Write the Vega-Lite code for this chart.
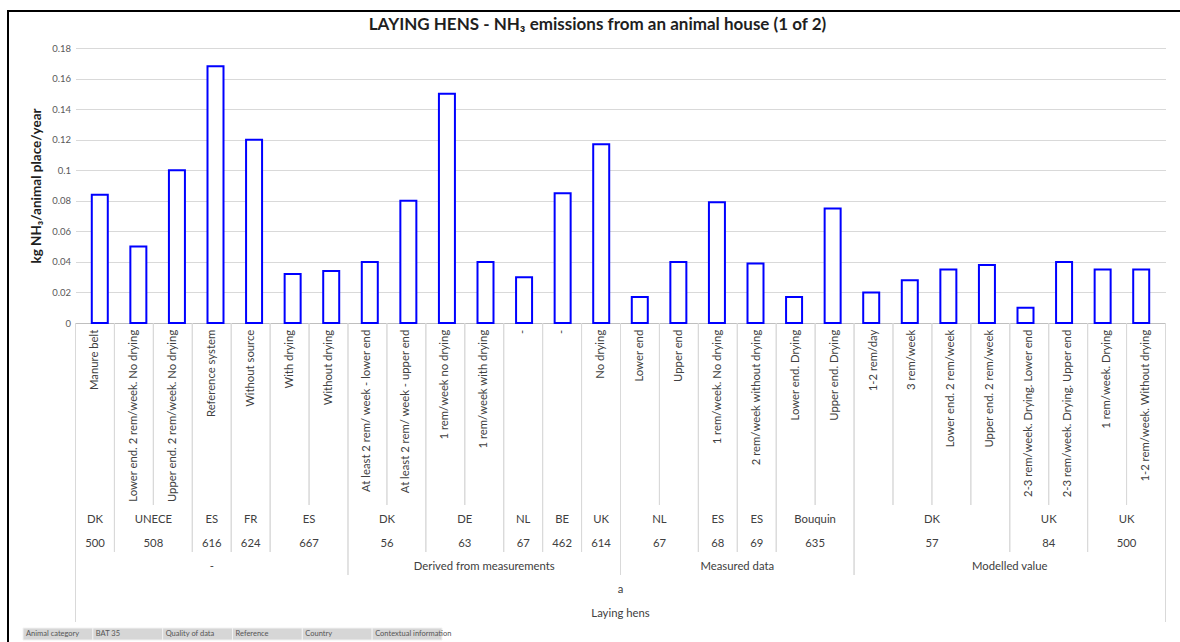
{
  "$schema": "https://vega.github.io/schema/vega-lite/v6.json",
  "padding": {"left": 7, "top": 10, "right": 0, "bottom": 0},
  "autosize": {"type": "pad"},
  "bounds": "flush",
  "spacing": 0,
  "background": "white",
  "config": {"view": {"stroke": null}, "font": "Lato", "text": {"font": "Lato", "color": "#404040", "fontSize": 11.3}, "rule": {"color": "#d9d9d9", "strokeWidth": 1}},
  "datasets": {"rows": [
    {"Contextual information": "Manure belt", "Country": "DK", "Reference": "500", "Quality of data": "-", "BAT 35": "a", "Animal category": "Laying hens", "Emission": 0.084},
    {"Contextual information": "Lower end. 2 rem/week. No drying", "Country": "UNECE", "Reference": "508", "Quality of data": "-", "BAT 35": "a", "Animal category": "Laying hens", "Emission": 0.05},
    {"Contextual information": "Upper end. 2 rem/week. No drying", "Country": "UNECE", "Reference": "508", "Quality of data": "-", "BAT 35": "a", "Animal category": "Laying hens", "Emission": 0.1},
    {"Contextual information": "Reference system", "Country": "ES", "Reference": "616", "Quality of data": "-", "BAT 35": "a", "Animal category": "Laying hens", "Emission": 0.168},
    {"Contextual information": "Without source", "Country": "FR", "Reference": "624", "Quality of data": "-", "BAT 35": "a", "Animal category": "Laying hens", "Emission": 0.12},
    {"Contextual information": "With drying", "Country": "ES", "Reference": "667", "Quality of data": "-", "BAT 35": "a", "Animal category": "Laying hens", "Emission": 0.032},
    {"Contextual information": "Without drying", "Country": "ES", "Reference": "667", "Quality of data": "-", "BAT 35": "a", "Animal category": "Laying hens", "Emission": 0.034},
    {"Contextual information": "At least 2 rem/ week - lower end", "Country": "DK", "Reference": "56", "Quality of data": "Derived from measurements", "BAT 35": "a", "Animal category": "Laying hens", "Emission": 0.04},
    {"Contextual information": "At least 2 rem/ week - upper end", "Country": "DK", "Reference": "56", "Quality of data": "Derived from measurements", "BAT 35": "a", "Animal category": "Laying hens", "Emission": 0.08},
    {"Contextual information": "1 rem/week no drying", "Country": "DE", "Reference": "63", "Quality of data": "Derived from measurements", "BAT 35": "a", "Animal category": "Laying hens", "Emission": 0.15},
    {"Contextual information": "1 rem/week with drying", "Country": "DE", "Reference": "63", "Quality of data": "Derived from measurements", "BAT 35": "a", "Animal category": "Laying hens", "Emission": 0.04},
    {"Contextual information": "-", "Country": "NL", "Reference": "67", "Quality of data": "Derived from measurements", "BAT 35": "a", "Animal category": "Laying hens", "Emission": 0.03},
    {"Contextual information": "-", "Country": "BE", "Reference": "462", "Quality of data": "Derived from measurements", "BAT 35": "a", "Animal category": "Laying hens", "Emission": 0.085},
    {"Contextual information": "No drying", "Country": "UK", "Reference": "614", "Quality of data": "Derived from measurements", "BAT 35": "a", "Animal category": "Laying hens", "Emission": 0.117},
    {"Contextual information": "Lower end", "Country": "NL", "Reference": "67", "Quality of data": "Measured data", "BAT 35": "a", "Animal category": "Laying hens", "Emission": 0.017},
    {"Contextual information": "Upper end", "Country": "NL", "Reference": "67", "Quality of data": "Measured data", "BAT 35": "a", "Animal category": "Laying hens", "Emission": 0.04},
    {"Contextual information": "1 rem/week. No drying", "Country": "ES", "Reference": "68", "Quality of data": "Measured data", "BAT 35": "a", "Animal category": "Laying hens", "Emission": 0.079},
    {"Contextual information": "2 rem/week without drying", "Country": "ES", "Reference": "69", "Quality of data": "Measured data", "BAT 35": "a", "Animal category": "Laying hens", "Emission": 0.039},
    {"Contextual information": "Lower end. Drying", "Country": "Bouquin", "Reference": "635", "Quality of data": "Measured data", "BAT 35": "a", "Animal category": "Laying hens", "Emission": 0.017},
    {"Contextual information": "Upper end. Drying", "Country": "Bouquin", "Reference": "635", "Quality of data": "Measured data", "BAT 35": "a", "Animal category": "Laying hens", "Emission": 0.075},
    {"Contextual information": "1-2 rem/day", "Country": "DK", "Reference": "57", "Quality of data": "Modelled value", "BAT 35": "a", "Animal category": "Laying hens", "Emission": 0.02},
    {"Contextual information": "3 rem/week", "Country": "DK", "Reference": "57", "Quality of data": "Modelled value", "BAT 35": "a", "Animal category": "Laying hens", "Emission": 0.028},
    {"Contextual information": "Lower end. 2 rem/week", "Country": "DK", "Reference": "57", "Quality of data": "Modelled value", "BAT 35": "a", "Animal category": "Laying hens", "Emission": 0.035},
    {"Contextual information": "Upper end. 2 rem/week", "Country": "DK", "Reference": "57", "Quality of data": "Modelled value", "BAT 35": "a", "Animal category": "Laying hens", "Emission": 0.038},
    {"Contextual information": "2-3 rem/week. Drying. Lower end", "Country": "UK", "Reference": "84", "Quality of data": "Modelled value", "BAT 35": "a", "Animal category": "Laying hens", "Emission": 0.01},
    {"Contextual information": "2-3 rem/week. Drying. Upper end", "Country": "UK", "Reference": "84", "Quality of data": "Modelled value", "BAT 35": "a", "Animal category": "Laying hens", "Emission": 0.04},
    {"Contextual information": "1 rem/week. Drying", "Country": "UK", "Reference": "500", "Quality of data": "Modelled value", "BAT 35": "a", "Animal category": "Laying hens", "Emission": 0.035},
    {"Contextual information": "1-2 rem/week. Without drying", "Country": "UK", "Reference": "500", "Quality of data": "Modelled value", "BAT 35": "a", "Animal category": "Laying hens", "Emission": 0.035}
  ],
  "titles": [{"Title": "LAYING HENS - NH₃ emissions from an animal house (1 of 2)"}],
  "frame": [{"Frame": "chart area"}],
  "fields": [
    {"Field button": "Animal category"},
    {"Field button": "BAT 35"},
    {"Field button": "Quality of data"},
    {"Field button": "Reference"},
    {"Field button": "Country"},
    {"Field button": "Contextual information"}
  ]},
  "vconcat": [
    {
      "data": {"name": "frame"},
      "width": 1173, "height": 2,
      "view": {"fill": "#000000", "stroke": null},
      "mark": {"type": "text", "text": "", "fontSize": 1},
      "encoding": {}
    },
    {
      "spacing": 14,
      "bounds": "flush",
      "hconcat": [
        {
          "data": {"name": "frame"},
          "width": 2, "height": 630,
          "view": {"fill": "#000000", "stroke": null},
          "mark": {"type": "text", "text": "", "fontSize": 1},
          "encoding": {}
        },
        {
          "spacing": 52.5,
          "bounds": "flush",
          "hconcat": [
            {
              "spacing": 6,
              "bounds": "flush",
              "vconcat": [
                {
                  "data": {"name": "frame"},
                  "width": 1, "height": 610,
                  "mark": {"type": "text", "text": "", "fontSize": 1},
                  "encoding": {}
                },
                {
                  "data": {"name": "fields"},
                  "width": 419, "height": 12,
                  "encoding": {"x": {"field": "Field button", "type": "nominal", "sort": null, "scale": {"type": "band", "paddingInner": 0, "paddingOuter": 0}, "axis": null}},
                  "layer": [
                    {"mark": {"type": "bar", "fill": "#d6d6d6", "stroke": "#f2f2f2", "strokeWidth": 1}},
                    {"mark": {"type": "text", "align": "left", "baseline": "middle", "fontSize": 7.5, "color": "#555555", "dx": 3}, "encoding": {"x": {"field": "Field button", "type": "nominal", "sort": null, "bandPosition": 0}, "text": {"field": "Field button"}}}
                  ]
                }
              ]
            },
            {
              "data": {"name": "rows"},
              "transform": [{"window": [{"op": "row_number", "as": "idx"}]}],
              "spacing": 0,
              "bounds": "flush",
              "vconcat": [
                {
                  "data": {"name": "titles"},
                  "width": 1090, "height": 36,
                  "mark": {"type": "text", "fontSize": 17, "fontWeight": "bold", "color": "#1f1f1f", "dx": -23, "dy": -5, "baseline": "middle"},
                  "encoding": {"text": {"field": "Title"}}
                },
                {
                  "width": 1090, "height": 275,
                  "mark": {"type": "bar", "fill": "white", "stroke": "#0000FF", "strokeWidth": 2, "size": 16},
                  "encoding": {
                    "x": {"field": "idx", "type": "quantitative", "scale": {"domain": [0.5, 28.5], "nice": false, "zero": false}, "axis": {"title": null, "labels": false, "ticks": false, "grid": false, "domainColor": "#bfbfbf"}},
                    "y": {"field": "Emission", "type": "quantitative", "scale": {"domain": [0, 0.18], "nice": false},
                      "axis": {"values": [0, 0.02, 0.04, 0.06, 0.08, 0.1, 0.12, 0.14, 0.16, 0.18], "format": "~g", "title": "kg NH₃/animal place/year", "titleFont": "Lato", "titleFontSize": 13.5, "titleFontWeight": "bold", "titleColor": "#1f1f1f", "titlePadding": 4, "grid": true, "gridColor": "#d9d9d9", "domain": false, "ticks": false, "labelPadding": 5, "labelFontSize": 9.5, "labelColor": "#595959", "labelFont": "Lato", "minExtent": 28, "maxExtent": 28}}
                  }
                },
                {
                  "width": 1090, "height": 182,
                  "layer": [
                    {"mark": {"type": "text", "angle": 270, "align": "right", "baseline": "middle"},
                      "encoding": {
                        "x": {"field": "idx", "type": "quantitative", "scale": {"domain": [0.5, 28.5], "nice": false, "zero": false}, "axis": null},
                        "y": {"field": "Animal category", "type": "nominal", "bandPosition": 0, "scale": {"type": "band", "paddingInner": 0, "paddingOuter": 0.04}, "axis": null},
                        "text": {"field": "Contextual information"}}},
                    {"mark": {"type": "rule"}, "encoding": {"x": {"field": "idx", "type": "quantitative", "scale": {"domain": [1, 29], "nice": false, "zero": false}, "axis": null}}},
                    {"mark": {"type": "rule"}, "encoding": {"x": {"field": "idx", "type": "quantitative", "scale": {"domain": [0, 28], "nice": false, "zero": false}, "axis": null}}}
                  ],
                  "resolve": {"scale": {"x": "independent"}}
                },
                {
                  "width": 1090, "height": 24,
                  "transform": [{"aggregate": [{"op": "mean", "field": "idx", "as": "mid"}, {"op": "min", "field": "idx", "as": "lo"}, {"op": "max", "field": "idx", "as": "hi"}], "groupby": ["Quality of data", "Reference", "Country"]}],
                  "layer": [
                    {"mark": {"type": "text", "dy": 3}, "encoding": {"x": {"field": "mid", "type": "quantitative", "scale": {"domain": [0.5, 28.5], "nice": false, "zero": false}, "axis": null}, "text": {"field": "Country"}}},
                    {"mark": {"type": "rule"}, "encoding": {"x": {"field": "lo", "type": "quantitative", "scale": {"domain": [1, 29], "nice": false, "zero": false}, "axis": null}}},
                    {"mark": {"type": "rule"}, "encoding": {"x": {"field": "hi", "type": "quantitative", "scale": {"domain": [0, 28], "nice": false, "zero": false}, "axis": null}}}
                  ],
                  "resolve": {"scale": {"x": "independent"}}
                },
                {
                  "width": 1090, "height": 23,
                  "transform": [{"aggregate": [{"op": "mean", "field": "idx", "as": "mid"}, {"op": "min", "field": "idx", "as": "lo"}, {"op": "max", "field": "idx", "as": "hi"}], "groupby": ["Quality of data", "Reference"]}],
                  "layer": [
                    {"mark": {"type": "text", "dy": 3}, "encoding": {"x": {"field": "mid", "type": "quantitative", "scale": {"domain": [0.5, 28.5], "nice": false, "zero": false}, "axis": null}, "text": {"field": "Reference"}}},
                    {"mark": {"type": "rule"}, "encoding": {"x": {"field": "lo", "type": "quantitative", "scale": {"domain": [1, 29], "nice": false, "zero": false}, "axis": null}}},
                    {"mark": {"type": "rule"}, "encoding": {"x": {"field": "hi", "type": "quantitative", "scale": {"domain": [0, 28], "nice": false, "zero": false}, "axis": null}}}
                  ],
                  "resolve": {"scale": {"x": "independent"}}
                },
                {
                  "width": 1090, "height": 23,
                  "transform": [{"aggregate": [{"op": "mean", "field": "idx", "as": "mid"}, {"op": "min", "field": "idx", "as": "lo"}, {"op": "max", "field": "idx", "as": "hi"}], "groupby": ["Quality of data"]}],
                  "layer": [
                    {"mark": {"type": "text", "dy": 3}, "encoding": {"x": {"field": "mid", "type": "quantitative", "scale": {"domain": [0.5, 28.5], "nice": false, "zero": false}, "axis": null}, "text": {"field": "Quality of data"}}},
                    {"mark": {"type": "rule"}, "encoding": {"x": {"field": "lo", "type": "quantitative", "scale": {"domain": [1, 29], "nice": false, "zero": false}, "axis": null}}},
                    {"mark": {"type": "rule"}, "encoding": {"x": {"field": "hi", "type": "quantitative", "scale": {"domain": [0, 28], "nice": false, "zero": false}, "axis": null}}}
                  ],
                  "resolve": {"scale": {"x": "independent"}}
                },
                {
                  "width": 1090, "height": 24,
                  "transform": [{"aggregate": [{"op": "mean", "field": "idx", "as": "mid"}, {"op": "min", "field": "idx", "as": "lo"}, {"op": "max", "field": "idx", "as": "hi"}], "groupby": ["BAT 35"]}],
                  "layer": [
                    {"mark": {"type": "text", "dy": 3}, "encoding": {"x": {"field": "mid", "type": "quantitative", "scale": {"domain": [0.5, 28.5], "nice": false, "zero": false}, "axis": null}, "text": {"field": "BAT 35"}}},
                    {"mark": {"type": "rule"}, "encoding": {"x": {"field": "lo", "type": "quantitative", "scale": {"domain": [1, 29], "nice": false, "zero": false}, "axis": null}}},
                    {"mark": {"type": "rule"}, "encoding": {"x": {"field": "hi", "type": "quantitative", "scale": {"domain": [0, 28], "nice": false, "zero": false}, "axis": null}}}
                  ],
                  "resolve": {"scale": {"x": "independent"}}
                },
                {
                  "width": 1090, "height": 23,
                  "transform": [{"aggregate": [{"op": "mean", "field": "idx", "as": "mid"}, {"op": "min", "field": "idx", "as": "lo"}, {"op": "max", "field": "idx", "as": "hi"}], "groupby": ["Animal category"]}],
                  "layer": [
                    {"mark": {"type": "text", "dy": 3}, "encoding": {"x": {"field": "mid", "type": "quantitative", "scale": {"domain": [0.5, 28.5], "nice": false, "zero": false}, "axis": null}, "text": {"field": "Animal category"}}},
                    {"mark": {"type": "rule"}, "encoding": {"x": {"field": "lo", "type": "quantitative", "scale": {"domain": [1, 29], "nice": false, "zero": false}, "axis": null}}},
                    {"mark": {"type": "rule"}, "encoding": {"x": {"field": "hi", "type": "quantitative", "scale": {"domain": [0, 28], "nice": false, "zero": false}, "axis": null}}}
                  ],
                  "resolve": {"scale": {"x": "independent"}}
                }
              ]
            }
          ]
        }
      ]
    }
  ]
}
